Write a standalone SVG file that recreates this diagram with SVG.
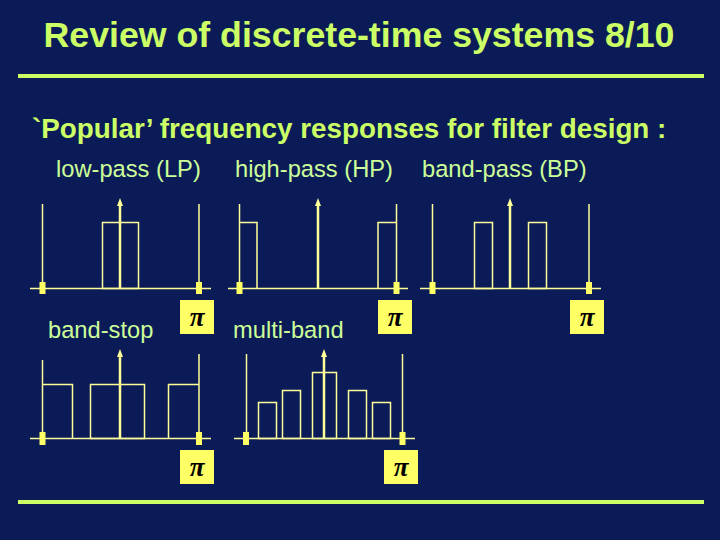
<svg xmlns="http://www.w3.org/2000/svg" width="720" height="540" viewBox="0 0 720 540">
<defs>
<style>
.title{font-family:"Liberation Sans",Arial,sans-serif;font-weight:bold;font-size:35.7px;fill:#ccff66}
.sub{font-family:"Liberation Sans",Arial,sans-serif;font-weight:bold;font-size:27.8px;fill:#ccff66}
.lbl{font-family:"Liberation Sans",Arial,sans-serif;font-size:23.7px;fill:#ccff99}
.ln{stroke:#ffff99;stroke-width:1.5;fill:none}
.bar{stroke:#ccff66;stroke-width:4}
.arr{stroke:#ffff99;stroke-width:2.5}
.mk{fill:#ffff66}
.pibox{fill:#ffff66}
.pi{font-family:"Liberation Serif","Times New Roman",serif;font-style:italic;font-weight:bold;font-size:27px;fill:#000}
</style>
<marker id="ah" viewBox="0 0 8 6" refX="0" refY="3" markerWidth="8" markerHeight="6" markerUnits="userSpaceOnUse" orient="auto">
<path d="M0,0 L8,3 L0,6 Z" fill="#ffff99"/>
</marker>
</defs>
<rect width="720" height="540" fill="#0b1b57"/>
<text class="title" x="359" y="47" text-anchor="middle">Review of discrete-time systems 8/10</text>
<line class="bar" x1="18" y1="76" x2="704" y2="76"/>
<line class="bar" x1="18" y1="502" x2="704" y2="502"/>
<text class="sub" x="32" y="138">`Popular’ frequency responses for filter design :</text>
<text class="lbl" x="56" y="177">low-pass (LP)</text>
<text class="lbl" x="235" y="177">high-pass (HP)</text>
<text class="lbl" x="422" y="177">band-pass (BP)</text>
<text class="lbl" x="48" y="338">band-stop</text>
<text class="lbl" x="233" y="338">multi-band</text>

<g id="lp">
<line class="ln" x1="30" y1="288.5" x2="211" y2="288.5"/>
<line class="ln" x1="42.5" y1="204" x2="42.5" y2="288.5"/>
<line class="ln" x1="199" y1="204" x2="199" y2="288.5"/>
<rect class="ln" x="102.5" y="222.5" width="36" height="66"/>
<line class="arr" x1="120" y1="288.5" x2="120" y2="206" marker-end="url(#ah)"/>
<rect class="mk" x="39.5" y="282" width="6" height="12"/>
<rect class="mk" x="196" y="282" width="6" height="12"/>
<rect class="pibox" x="180" y="300" width="34" height="34"/>
<text class="pi" x="197" y="326" text-anchor="middle">π</text>
</g>

<g id="hp">
<line class="ln" x1="228" y1="288.5" x2="408" y2="288.5"/>
<line class="ln" x1="239.5" y1="204" x2="239.5" y2="288.5"/>
<line class="ln" x1="396.5" y1="204" x2="396.5" y2="288.5"/>
<polyline class="ln" points="239.5,222.5 257,222.5 257,288.5"/>
<polyline class="ln" points="396.5,222.5 378,222.5 378,288.5"/>
<line class="arr" x1="318" y1="288.5" x2="318" y2="206" marker-end="url(#ah)"/>
<rect class="mk" x="236.5" y="282" width="6" height="12"/>
<rect class="mk" x="393.5" y="282" width="6" height="12"/>
<rect class="pibox" x="378" y="300" width="34" height="34"/>
<text class="pi" x="395" y="326" text-anchor="middle">π</text>
</g>

<g id="bp">
<line class="ln" x1="420" y1="288.5" x2="601" y2="288.5"/>
<line class="ln" x1="432.5" y1="204" x2="432.5" y2="288.5"/>
<line class="ln" x1="589" y1="204" x2="589" y2="288.5"/>
<rect class="ln" x="474.5" y="222.5" width="18" height="66"/>
<rect class="ln" x="528.5" y="222.5" width="18" height="66"/>
<line class="arr" x1="510" y1="288.5" x2="510" y2="206" marker-end="url(#ah)"/>
<rect class="mk" x="429.5" y="282" width="6" height="12"/>
<rect class="mk" x="586" y="282" width="6" height="12"/>
<rect class="pibox" x="570" y="300" width="34" height="34"/>
<text class="pi" x="587" y="326" text-anchor="middle">π</text>
</g>

<g id="bs">
<line class="ln" x1="30" y1="438.5" x2="211" y2="438.5"/>
<line class="ln" x1="42.5" y1="360" x2="42.5" y2="438.5"/>
<line class="ln" x1="199" y1="354" x2="199" y2="438.5"/>
<polyline class="ln" points="42.5,384.5 72.5,384.5 72.5,438.5"/>
<rect class="ln" x="90.5" y="384.5" width="54" height="54"/>
<polyline class="ln" points="168.5,438.5 168.5,384.5 199,384.5"/>
<line class="arr" x1="120" y1="438.5" x2="120" y2="357" marker-end="url(#ah)"/>
<rect class="mk" x="39.5" y="432" width="6" height="13"/>
<rect class="mk" x="196" y="432" width="6" height="13"/>
<rect class="pibox" x="180" y="450" width="34" height="34"/>
<text class="pi" x="197" y="476" text-anchor="middle">π</text>
</g>

<g id="mb">
<line class="ln" x1="234" y1="438.5" x2="415" y2="438.5"/>
<line class="ln" x1="246.5" y1="354" x2="246.5" y2="438.5"/>
<line class="ln" x1="402.5" y1="354" x2="402.5" y2="438.5"/>
<rect class="ln" x="258.5" y="402.5" width="18" height="36"/>
<rect class="ln" x="282.5" y="390.5" width="18" height="48"/>
<rect class="ln" x="312.5" y="372.5" width="24" height="66"/>
<rect class="ln" x="348.5" y="390.5" width="18" height="48"/>
<rect class="ln" x="372.5" y="402.5" width="18" height="36"/>
<line class="arr" x1="324" y1="438.5" x2="324" y2="357" marker-end="url(#ah)"/>
<rect class="mk" x="243" y="432" width="6" height="13"/>
<rect class="mk" x="399.5" y="432" width="6" height="13"/>
<rect class="pibox" x="384" y="450" width="34" height="34"/>
<text class="pi" x="401" y="476" text-anchor="middle">π</text>
</g>
</svg>
